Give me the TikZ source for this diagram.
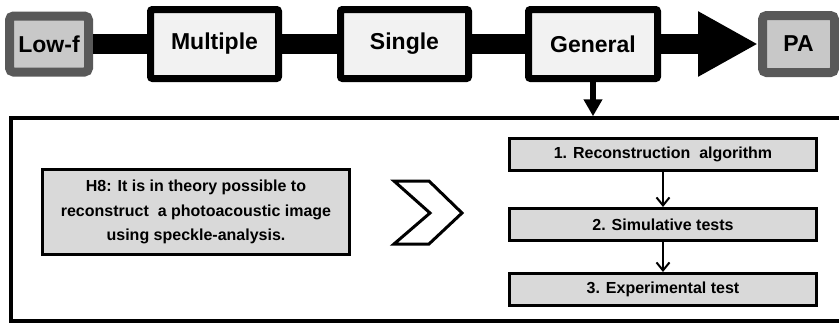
\documentclass[tikz,border=0pt]{standalone}
\usepackage{fontspec}
\setmainfont{Liberation Sans}
\usepackage{tikz}
\usetikzlibrary{%
  calc,
  positioning,
  arrows.meta,
}

\definecolor{stagefill}{RGB}{242,242,242}
\definecolor{endfill}{RGB}{200,200,200}
\definecolor{endline}{RGB}{89,89,89}
\definecolor{taskfill}{RGB}{217,217,217}

\tikzset{
  stage/.style={draw=black, line width=7pt,
    fill=stagefill, rounded corners=2pt,
    minimum width=128pt, minimum height=69pt, inner sep=0pt,
    font=\fontsize{23}{27}\selectfont\bfseries},
  endstage/.style={stage, draw=endline, fill=endfill,
    line width=9pt, rounded corners=4pt},
  bar/.style={line width=20pt},
  task/.style={draw=black, line width=3pt, fill=taskfill,
    minimum width=307pt, minimum height=32pt, inner sep=0pt,
    font=\fontsize{16}{19}\selectfont\bfseries},
  step arrow/.style={line width=2pt,
    -{Straight Barb[length=8pt,width=13pt]}},
}

\begin{document}
\begin{tikzpicture}[x=1pt, y=-1pt]
        % pixel grid, y pointing down
        \useasboundingbox (0,0) rectangle (839,322);

        % top row of stages
        \node[endstage, minimum width=79pt, minimum height=56pt]
          (lowf) at (49,44) {Low-f};
        \node[stage] (mult) at (214.5,44) {Multiple};
        \node[stage] (single) at (404.5,44) {Single};
        \node[stage, minimum width=129pt] (gen) at (593,44) {General};
        \node[endstage, minimum width=72pt, minimum height=57pt]
          (pa) at (798.5,44) {PA};

        \draw[bar] (lowf) -- (mult);
        \draw[bar] (mult) -- (single);
        \draw[bar] (single) -- (gen);
        \draw[bar, -{Triangle[length=60pt,width=61pt]}]
          (gen) -- (pa);

        % frame for the work plan
        \node[draw, line width=3.5pt, minimum width=834pt,
          minimum height=203pt] (plan) at (428,219.5) {};

        \draw[line width=6pt, -{Triangle[length=17pt,width=18pt]}]
          (gen.south) -- (gen.south |- plan.north);

        % hypothesis
        \node[draw, line width=3pt, fill=taskfill,
          minimum width=307pt, minimum height=85pt, align=center,
          font=\fontsize{16}{24.5}\selectfont\bfseries]
          (hyp) at (196,212)
          {H8: It is in theory possible to\\
           reconstruct\ \ a photoacoustic image\\
           using speckle-analysis.};

        % chevron
        \draw[line width=3pt, line join=miter]
          (394,181) -- (429,181) -- (462,213) -- (429,244)
          -- (394,244) -- (430,213) -- cycle;

        % steps
        \node[task] (t1) at (663,154.5) {1. Reconstruction\ \ algorithm};
        \node[task] (t2) at (663,224.5) {2. Simulative tests};
        \node[task] (t3) at (663,289.5) {3. Experimental test};

        \draw[step arrow] (t1) -- (t2);
        \draw[step arrow] (t2) -- (t3);
      \end{tikzpicture}
\end{document}
